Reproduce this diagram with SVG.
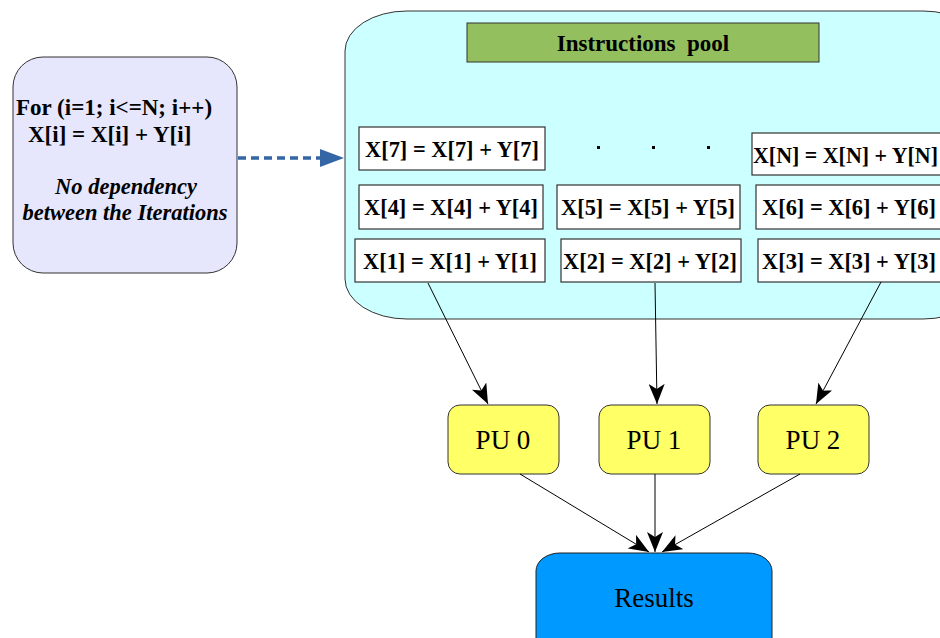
<svg xmlns="http://www.w3.org/2000/svg" width="940" height="638" viewBox="0 0 940 638">
  <style>
    .b { font-family: "Liberation Serif", "Times New Roman", serif; font-weight: bold; font-size: 23px; fill: #000; }
    .ins { font-family: "Liberation Serif", "Times New Roman", serif; font-weight: bold; font-size: 22.4px; fill: #000; }
    .bi { font-family: "Liberation Serif", "Times New Roman", serif; font-weight: bold; font-style: italic; font-size: 22.5px; fill: #000; }
    .r { font-family: "Liberation Serif", "Times New Roman", serif; font-size: 27px; fill: #000; }
    .instr { fill: #ffffff; stroke: #333333; stroke-width: 1.2; }
    .pu { fill: #ffff66; stroke: #333333; stroke-width: 1; }
    .edge { stroke: #000; stroke-width: 1; fill: none; marker-end: url(#arrow); }
  </style>
  <defs>
    <marker id="arrow" viewBox="0 0 20 16" refX="20" refY="8" markerWidth="20" markerHeight="16" markerUnits="userSpaceOnUse" orient="auto">
      <path d="M0,0 L20,8 L0,16 L5,8 Z" fill="#000"/>
    </marker>
    <marker id="blueArrow" viewBox="0 0 24 18" refX="2" refY="9" markerWidth="24" markerHeight="18" markerUnits="userSpaceOnUse" orient="auto">
      <path d="M0,0 L24,9 L0,18 Z" fill="#3465a4"/>
    </marker>
  </defs>

  <rect width="940" height="638" fill="#ffffff"/>

  <!-- loop description -->
  <g id="loop">
    <rect x="13" y="57" width="224" height="216" rx="30" ry="30" fill="#e6e6fc" stroke="#333333" stroke-width="1"/>
    <text class="b" x="16" y="115">For (i=1; i&lt;=N; i++)</text>
    <text class="b" x="28" y="142">X[i] = X[i] + Y[i]</text>
    <text class="bi" x="126" y="194" text-anchor="middle">No dependency</text>
    <text class="bi" x="125" y="220" text-anchor="middle">between the Iterations</text>
  </g>

  <!-- instruction pool container -->
  <g id="pool">
    <rect x="345" y="11" width="640" height="308" rx="62" ry="40" fill="#ccffff" stroke="#333333" stroke-width="1"/>
    <rect x="467" y="23" width="352" height="39" fill="#93bf5f" stroke="#333333" stroke-width="1"/>
    <text class="b" x="643" y="51" text-anchor="middle" xml:space="preserve">Instructions  pool</text>
    <rect x="597" y="146" width="3" height="3" fill="#000"/>
    <rect x="652" y="146" width="3" height="3" fill="#000"/>
    <rect x="707" y="146" width="3" height="3" fill="#000"/>
  </g>

  <g id="i7"><rect class="instr" x="359" y="127" width="186" height="43"/><text class="ins" x="452" y="157" text-anchor="middle">X[7] = X[7] + Y[7]</text></g>
  <g id="iN"><rect class="instr" x="752" y="133" width="200" height="42"/><text class="ins" x="753" y="163" textLength="185" lengthAdjust="spacingAndGlyphs">X[N] = X[N] + Y[N]</text></g>
  <g id="i4"><rect class="instr" x="359" y="185" width="184" height="44"/><text class="ins" x="451" y="215" text-anchor="middle">X[4] = X[4] + Y[4]</text></g>
  <g id="i5"><rect class="instr" x="557" y="185" width="183" height="44"/><text class="ins" x="648" y="215" text-anchor="middle">X[5] = X[5] + Y[5]</text></g>
  <g id="i6"><rect class="instr" x="756" y="185" width="200" height="44"/><text class="ins" x="762" y="215">X[6] = X[6] + Y[6]</text></g>
  <g id="i1"><rect class="instr" x="355" y="239" width="190" height="43"/><text class="ins" x="450" y="269" text-anchor="middle">X[1] = X[1] + Y[1]</text></g>
  <g id="i2"><rect class="instr" x="561" y="239" width="180" height="43"/><text class="ins" x="650" y="269" text-anchor="middle">X[2] = X[2] + Y[2]</text></g>
  <g id="i3"><rect class="instr" x="758" y="239" width="200" height="43"/><text class="ins" x="762" y="269">X[3] = X[3] + Y[3]</text></g>

  <!-- processing units -->
  <g id="pu0"><rect class="pu" x="448" y="405" width="111" height="69" rx="12" ry="12"/><text class="r" x="503" y="449" text-anchor="middle">PU 0</text></g>
  <g id="pu1"><rect class="pu" x="599" y="405" width="111" height="69" rx="12" ry="12"/><text class="r" x="654" y="449" text-anchor="middle">PU 1</text></g>
  <g id="pu2"><rect class="pu" x="758" y="405" width="111" height="69" rx="12" ry="12"/><text class="r" x="813" y="449" text-anchor="middle">PU 2</text></g>

  <!-- results -->
  <g id="results">
    <rect x="536" y="553" width="236" height="110" rx="24" ry="18" fill="#0099ff" stroke="#222222" stroke-width="1"/>
    <text class="r" x="654" y="607" text-anchor="middle">Results</text>
  </g>

  <!-- connectors -->
  <g id="connectors">
    <line x1="238" y1="158" x2="322" y2="158" stroke="#3465a4" stroke-width="3.5" stroke-dasharray="8,5" marker-end="url(#blueArrow)"/>
    <line class="edge" x1="428" y1="283" x2="488" y2="404"/>
    <line class="edge" x1="655" y1="283" x2="657" y2="404"/>
    <line class="edge" x1="881" y1="282" x2="816" y2="404"/>
    <line class="edge" x1="520" y1="474" x2="649" y2="552"/>
    <line class="edge" x1="655" y1="474" x2="655" y2="552"/>
    <line class="edge" x1="800" y1="474" x2="662" y2="552"/>
  </g>
</svg>
